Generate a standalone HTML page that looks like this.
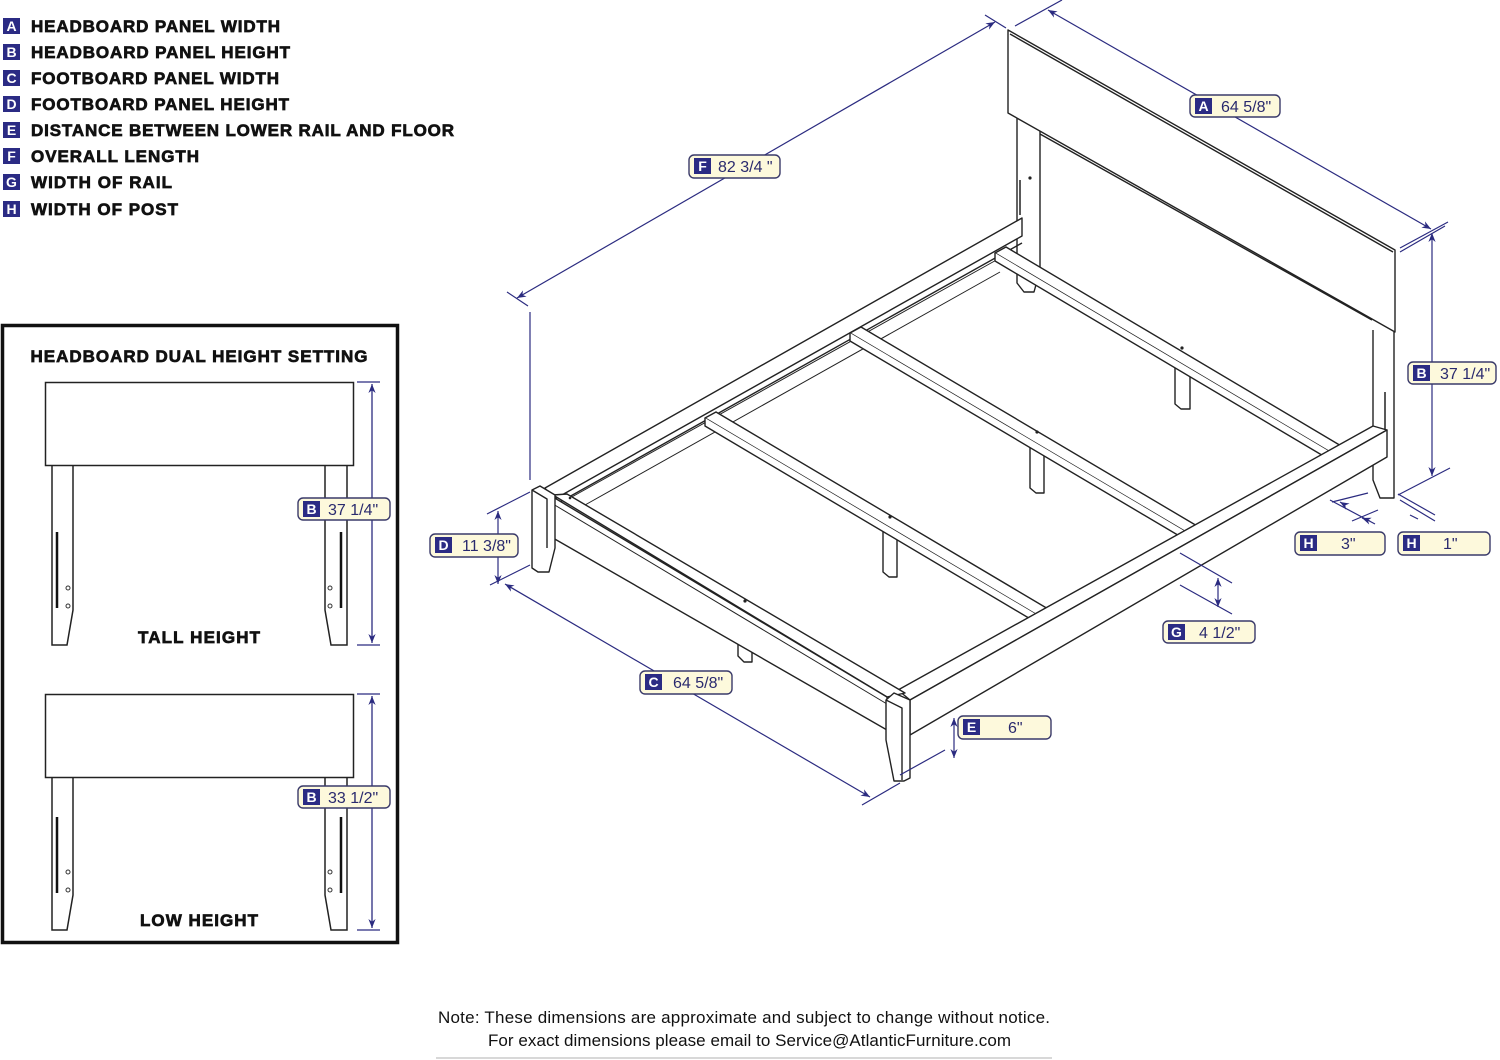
<!DOCTYPE html>
<html><head><meta charset="utf-8"><style>
html,body{margin:0;padding:0;background:#fff;}
svg{display:block;}
.l{font-family:"Liberation Sans",Arial,sans-serif;font-weight:bold;font-size:17px;fill:#111;stroke:#111;stroke-width:0.7;}
.bt{font-family:"Liberation Sans",Arial,sans-serif;font-size:16px;fill:#2a2a6e;}
.bl{font-family:"Liberation Sans",Arial,sans-serif;font-weight:bold;font-size:14px;fill:#fff;}
</style></head><body>
<svg width="1500" height="1060" viewBox="0 0 1500 1060" xmlns="http://www.w3.org/2000/svg">
<defs>
<marker id="ar" viewBox="0 0 10 10" refX="10" refY="5" markerWidth="9" markerHeight="9" orient="auto-start-reverse" markerUnits="userSpaceOnUse"><path d="M0,1 L10,5 L0,9 L3,5 z" fill="#2b2b80"/></marker>
</defs>

<!-- Legend -->
<g>
<rect x="3" y="18" width="17" height="16" fill="#2b2b84"/><text x="11.5" y="31" text-anchor="middle" class="bl">A</text><text x="31" y="32" class="l" textLength="249">HEADBOARD PANEL WIDTH</text>
<rect x="3" y="44" width="17" height="16" fill="#2b2b84"/><text x="11.5" y="57" text-anchor="middle" class="bl">B</text><text x="31" y="58" class="l" textLength="259">HEADBOARD PANEL HEIGHT</text>
<rect x="3" y="70" width="17" height="16" fill="#2b2b84"/><text x="11.5" y="83" text-anchor="middle" class="bl">C</text><text x="31" y="84" class="l" textLength="248">FOOTBOARD PANEL WIDTH</text>
<rect x="3" y="96" width="17" height="16" fill="#2b2b84"/><text x="11.5" y="109" text-anchor="middle" class="bl">D</text><text x="31" y="110" class="l" textLength="258">FOOTBOARD PANEL HEIGHT</text>
<rect x="3" y="122" width="17" height="16" fill="#2b2b84"/><text x="11.5" y="135" text-anchor="middle" class="bl">E</text><text x="31" y="136" class="l" textLength="423">DISTANCE BETWEEN LOWER RAIL AND FLOOR</text>
<rect x="3" y="148" width="17" height="16" fill="#2b2b84"/><text x="11.5" y="161" text-anchor="middle" class="bl">F</text><text x="31" y="162" class="l" textLength="168">OVERALL LENGTH</text>
<rect x="3" y="174" width="17" height="16" fill="#2b2b84"/><text x="11.5" y="187" text-anchor="middle" class="bl">G</text><text x="31" y="188" class="l" textLength="141">WIDTH OF RAIL</text>
<rect x="3" y="201" width="17" height="16" fill="#2b2b84"/><text x="11.5" y="214" text-anchor="middle" class="bl">H</text><text x="31" y="215" class="l" textLength="147">WIDTH OF POST</text>
</g>

<!-- Left box -->
<rect x="2.5" y="325.5" width="395" height="617" fill="none" stroke="#111" stroke-width="3.5"/>
<text x="199" y="362" text-anchor="middle" class="l" textLength="337">HEADBOARD DUAL HEIGHT SETTING</text>
<g fill="none" stroke="#222" stroke-width="1.5">
<rect x="45.5" y="382.5" width="308" height="83"/>
<path d="M52,466 V645 H67 L73,610 V466"/>
<path d="M347,466 V645 H331 L325,610 V466"/>
<rect x="45.5" y="694.5" width="308" height="83"/>
<path d="M52,778 V930 H67 L73,895 V778"/>
<path d="M347,778 V930 H331 L325,895 V778"/>
</g>
<g stroke="#111" stroke-width="2.5"><path d="M57,532 V608 M341,532 V608 M57,817 V893 M341,817 V893"/></g>
<g fill="none" stroke="#333" stroke-width="1"><circle cx="68" cy="588" r="2"/><circle cx="68" cy="606" r="2"/><circle cx="330" cy="588" r="2"/><circle cx="330" cy="606" r="2"/>
<circle cx="68" cy="872" r="2"/><circle cx="68" cy="890" r="2"/><circle cx="330" cy="872" r="2"/><circle cx="330" cy="890" r="2"/></g>
<g stroke="#2b2b80" stroke-width="1.3" fill="none">
<path d="M357,382 H380 M357,645 H380 M357,694 H380 M357,930 H380"/>
<path d="M372,384 V643" marker-start="url(#ar)" marker-end="url(#ar)"/>
<path d="M372,696 V928" marker-start="url(#ar)" marker-end="url(#ar)"/>
</g>
<text x="199" y="643" text-anchor="middle" class="l" textLength="122">TALL HEIGHT</text>
<text x="199" y="926" text-anchor="middle" class="l" textLength="118">LOW HEIGHT</text>

<!-- Bed drawing -->
<g fill="#fff" stroke="#222" stroke-width="1.4" stroke-linejoin="round">
<path d="M1017,116 V283 L1024,292 H1034 L1040,270 V125"/>
<path d="M1373,330 V480 L1380,498 H1394 V332"/>
<path d="M1008,30 L1395,250 V332 L1008,113 Z"/>
<path d="M1010,34 L1393,252" fill="none"/>
<path d="M1040,134 L1372,320" fill="none"/>
<path d="M545,488 L1022,218 V236 L553,500 Z"/>
<path d="M560,502 L1022,243" fill="none"/>
<path d="M570,498 L1000,258 M585,505 L1000,272" fill="none" stroke-width="1"/>
<path d="M883,527 V572 L889,577 H897 V527"/>
<path d="M1030,445 V488 L1036,493 H1044 V445"/>
<path d="M1175,362 V404 L1181,409 H1190 V362"/>
<path d="M738,643 V656 L744,662 H752 V650"/>
<path d="M705,418 L716,412 L1060,616 L1049,622 Z"/>
<path d="M705,418 V426 L1049,630 V622" fill="#fff"/>
<path d="M850,333 L861,327 L1209,533 L1198,539 Z"/>
<path d="M850,333 V341 L1198,547 V539"/>
<path d="M995,253 L1006,247 L1353,453 L1342,459 Z"/>
<path d="M995,253 V261 L1342,467 V459"/>
<path d="M898,690 L1373,426 L1387,430 L910,700 Z"/>
<path d="M910,700 L1387,430 V457 L910,735 Z"/>
<path d="M553,495 L567,494 L905,693 L887,697 Z"/>
<path d="M553,497 L887,697 V730 L553,538 Z"/>
<path d="M553,504 L887,704" fill="none" stroke-width="1"/>
<path d="M532,490 L540,486 L555,495 V548 L549,572 H538 L532,568 Z"/>
<path d="M532,490 L547,499 V548" fill="none"/>
<path d="M886,700 L894,693 L910,700 V778 L904,781 H894 L886,740 Z"/>
<path d="M886,700 L902,708 V780" fill="none"/>
</g>
<g fill="#222"><circle cx="1182" cy="348" r="1.6"/><circle cx="1037" cy="432" r="1.6"/><circle cx="890" cy="517" r="1.6"/><circle cx="745" cy="601" r="1.6"/><circle cx="1030" cy="178" r="1.6"/><circle cx="570" cy="498" r="1.3"/></g>
<path d="M1020,180 V215 M1385,392 V430" stroke="#222" stroke-width="1.5"/>

<!-- Dimensions -->
<g stroke="#2b2b80" stroke-width="1.2" fill="none">
<path d="M507,292 L528,306 M985,15 L1006,28 M530,312 V480"/>
<path d="M517,298 L995,22" marker-start="url(#ar)" marker-end="url(#ar)"/>
<path d="M1015,26 L1062,0 M1400,248 L1448,222"/>
<path d="M1048,10 L1431,229" marker-start="url(#ar)" marker-end="url(#ar)"/>
<path d="M1400,252 L1445,226 M1398,495 L1450,468"/>
<path d="M1432,233 V476" marker-start="url(#ar)" marker-end="url(#ar)"/>
<path d="M487,514 L530,492 M490,585 L530,565"/>
<path d="M498,511 V584" marker-start="url(#ar)" marker-end="url(#ar)"/>
<path d="M505,584 L870,797" marker-start="url(#ar)" marker-end="url(#ar)"/>
<path d="M862,805 L900,783 M900,775 L945,750"/>
<path d="M954,718 V758" marker-start="url(#ar)" marker-end="url(#ar)"/>
<path d="M1180,553 L1232,583 M1180,585 L1232,614"/>
<path d="M1218,578 V607" marker-start="url(#ar)" marker-end="url(#ar)"/>
<path d="M1332,502 L1368,493 M1352,521 L1378,510 M1330,500 L1375,524 M1398,494 L1435,515 M1400,500 L1435,521"/>
<path d="M1345,505 L1340,502" marker-end="url(#ar)"/>
<path d="M1362,518 L1370,521" marker-start="url(#ar)"/>
<path d="M1410,515 L1418,519"/>
</g>

<!-- Badges -->
<g stroke="#3a3a6a" stroke-width="1.4">
<rect x="1190" y="95" width="90" height="22" rx="5" fill="#fdf9dc"/>
<rect x="689" y="155" width="91" height="23" rx="5" fill="#fdf9dc"/>
<rect x="1408" y="362" width="88" height="22" rx="5" fill="#fdf9dc"/>
<rect x="430" y="534" width="88" height="23" rx="5" fill="#fdf9dc"/>
<rect x="1295" y="532" width="90" height="23" rx="5" fill="#fdf9dc"/>
<rect x="1398" y="532" width="92" height="23" rx="5" fill="#fdf9dc"/>
<rect x="1163" y="621" width="92" height="22" rx="5" fill="#fdf9dc"/>
<rect x="640" y="671" width="92" height="23" rx="5" fill="#fdf9dc"/>
<rect x="958" y="716" width="93" height="23" rx="5" fill="#fdf9dc"/>
<rect x="298" y="498" width="92" height="22" rx="5" fill="#fdf9dc"/>
<rect x="298" y="786" width="92" height="22" rx="5" fill="#fdf9dc"/>
</g>
<g fill="#2b2b84">
<rect x="1195" y="98" width="17" height="16"/><rect x="694" y="158" width="17" height="16"/>
<rect x="1413" y="365" width="17" height="16"/><rect x="435" y="537" width="17" height="16"/>
<rect x="1300" y="535" width="17" height="16"/><rect x="1403" y="535" width="17" height="16"/>
<rect x="1168" y="624" width="17" height="16"/><rect x="645" y="674" width="17" height="16"/>
<rect x="963" y="719" width="17" height="16"/><rect x="303" y="501" width="17" height="16"/>
<rect x="303" y="789" width="17" height="16"/>
</g>
<g class="bl" text-anchor="middle">
<text x="1203.5" y="111">A</text><text x="702.5" y="171">F</text><text x="1421.5" y="378">B</text><text x="443.5" y="550">D</text>
<text x="1308.5" y="548">H</text><text x="1411.5" y="548">H</text><text x="1176.5" y="637">G</text><text x="653.5" y="687">C</text>
<text x="971.5" y="732">E</text><text x="311.5" y="514">B</text><text x="311.5" y="802">B</text>
</g>
<g class="bt">
<text x="1221" y="112">64 5/8"</text><text x="718" y="172">82 3/4 "</text><text x="1440" y="379">37 1/4"</text><text x="462" y="551">11 3/8"</text>
<text x="1341" y="549">3"</text><text x="1443" y="549">1"</text><text x="1199" y="638">4 1/2"</text><text x="673" y="688">64 5/8"</text>
<text x="1008" y="733">6"</text><text x="328" y="515">37 1/4"</text><text x="328" y="803">33 1/2"</text>
</g>

<!-- Note -->
<g font-family="'Liberation Sans',Arial,sans-serif" font-size="17" fill="#111">
<text x="438" y="1023" textLength="612">Note:  These dimensions are approximate and subject to change without notice.</text>
<text x="488" y="1046" textLength="523">For exact dimensions please email to Service@AtlanticFurniture.com</text>
</g>
<path d="M436,1058 H1052" stroke="#ccc" stroke-width="1.5"/>
</svg>
</body></html>
